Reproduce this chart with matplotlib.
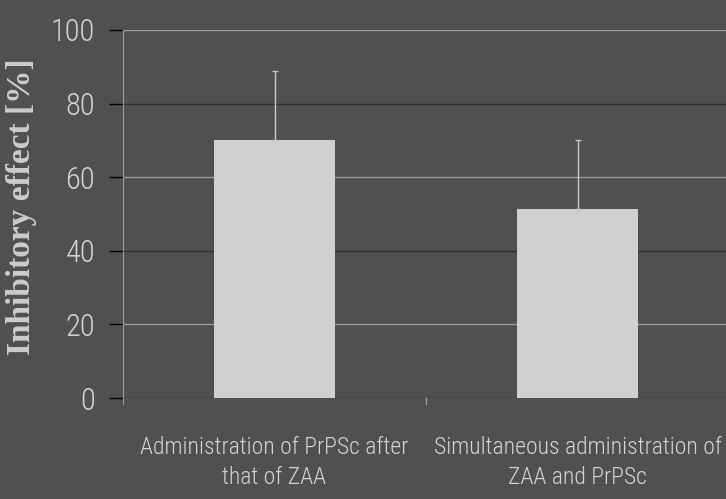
import matplotlib.pyplot as plt

# Data
categories = ["Administration of PrPSc after\nthat of ZAA",
              "Simultaneous administration of\nZAA and PrPSc"]
means = [70.2, 51.3]
errors = [18.7, 18.8]
yticks = [0, 20, 40, 60, 80, 100]

BG = "#505050"
BAR = "#d0d0d0"
TXT = "#d4d4d4"
LIGHT = "#9a9a9a"
DARK = "#303030"
NARROW = ["Roboto Condensed", "DejaVu Sans"]

fig = plt.figure(figsize=(7.26, 4.99), dpi=100, facecolor=BG)
ax = fig.add_axes([0.1694, 0.2024, 0.835, 0.7375])
ax.set_facecolor(BG)

x = range(len(categories))
ax.bar(x, means, width=0.4, color=BAR, zorder=3)
ax.errorbar(x, means, yerr=[[0, 0], errors], fmt="none", ecolor="#c8c8c8",
            elinewidth=1, capsize=2.5, capthick=1, zorder=4)

ax.set_xlim(-0.5, 1.5)
ax.set_ylim(0, 100)
ax.set_yticks(yticks)
ax.set_yticklabels([str(v) for v in yticks], family=NARROW, fontweight="light",
                   fontsize=22, color=TXT)
ax.set_xticks(list(x))
ax.set_xticklabels(categories, family=NARROW, fontweight="light",
                   fontsize=17, color=TXT, linespacing=1.4)
ax.tick_params(axis="x", length=0, pad=27)
ax.tick_params(axis="y", length=10, width=1, pad=10)

# alternating gridline colours, like the source
ax.yaxis.grid(True, linewidth=1, zorder=1)
for i, t in enumerate(ax.yaxis.get_major_ticks()):
    c = DARK if i % 2 == 0 else LIGHT
    t.gridline.set_color(c)
    t.tick1line.set_color(c)
ax.set_axisbelow(True)

for s in ["top", "right", "bottom"]:
    ax.spines[s].set_visible(False)
ax.spines["left"].set_color(LIGHT)
ax.spines["left"].set_bounds(-1.5, 100)

# small separator tick between the categories
ax.plot([0.5, 0.5], [0, -1.5], color=LIGHT, lw=1, clip_on=False)

ax.set_ylabel("Inhibitory effect [%]", family=["Liberation Serif", "DejaVu Serif"],
              fontweight="bold", fontsize=24, color="#cccccc")
ax.yaxis.set_label_coords(-0.142, 0.52)

fig.savefig("out.png", dpi=100, facecolor=BG)
